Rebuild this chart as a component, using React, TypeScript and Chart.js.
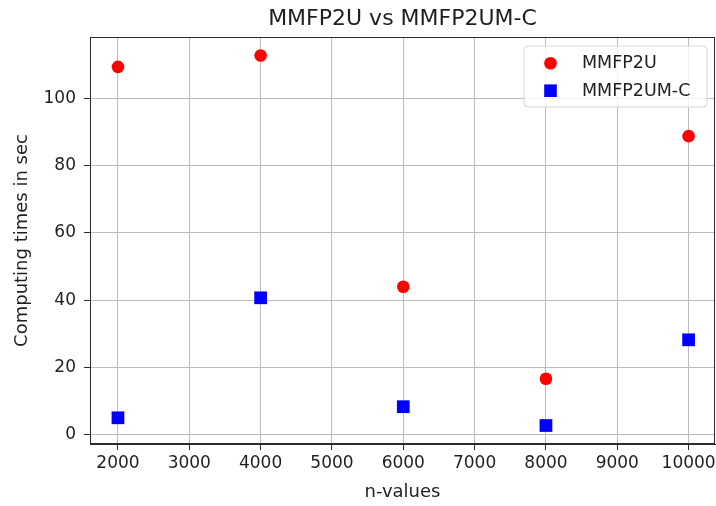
import React, { useEffect, useRef } from 'react';
import { Chart, registerables } from 'chart.js';

Chart.register(...registerables);

const nValues = [2000, 4000, 6000, 8000, 10000];
const mmfp2uTimes = [109.4, 112.8, 44.0, 16.6, 88.8];
const mmfp2umcTimes = [5.0, 40.7, 8.3, 2.7, 28.2];
const seriesLabels = ['MMFP2U', 'MMFP2UM-C'];
const xTicks = [2000, 3000, 4000, 5000, 6000, 7000, 8000, 9000, 10000];
const yTicks = [0, 20, 40, 60, 80, 100];

const FONT = 'DejaVu Sans';
const TEXT = '#1f1f1f';

const framePlugin = {
  id: 'frame',
  afterDatasetsDraw(chart: any) {
    const { ctx, chartArea } = chart;
    ctx.save();
    ctx.strokeStyle = '#2b2b2b';
    ctx.lineWidth = 1;
    const l = Math.round(chartArea.left) + 0.5;
    const t = Math.round(chartArea.top) + 0.5;
    const r = Math.round(chartArea.right) - 0.5;
    const b = Math.round(chartArea.bottom) - 0.5;
    ctx.strokeRect(l, t, r - l, b - t);
    ctx.restore();
  },
};

const legendPlugin = {
  id: 'boxLegend',
  afterDraw(chart: any) {
    const { ctx, chartArea } = chart;
    const w = 183;
    const h = 61;
    const x = chartArea.right - 8 - w;
    const y = chartArea.top + 9;
    const rad = 4;
    ctx.save();
    ctx.beginPath();
    ctx.moveTo(x + rad, y);
    ctx.lineTo(x + w - rad, y);
    ctx.arcTo(x + w, y, x + w, y + rad, rad);
    ctx.lineTo(x + w, y + h - rad);
    ctx.arcTo(x + w, y + h, x + w - rad, y + h, rad);
    ctx.lineTo(x + rad, y + h);
    ctx.arcTo(x, y + h, x, y + h - rad, rad);
    ctx.lineTo(x, y + rad);
    ctx.arcTo(x, y, x + rad, y, rad);
    ctx.closePath();
    ctx.fillStyle = 'rgba(255,255,255,0.8)';
    ctx.fill();
    ctx.strokeStyle = '#d6d6d6';
    ctx.lineWidth = 1;
    ctx.stroke();
    chart.data.datasets.forEach((ds: any, i: number) => {
      const my = y + 17.3 + i * 27.4;
      const mx = x + 26.5;
      ctx.fillStyle = ds.backgroundColor;
      if (ds.pointStyle === 'rect') {
        ctx.fillRect(mx - 6.3, my - 6.3, 12.6, 12.6);
      } else {
        ctx.beginPath();
        ctx.arc(mx, my, 6.3, 0, Math.PI * 2);
        ctx.fill();
      }
      ctx.fillStyle = TEXT;
      ctx.font = `17.5px "${FONT}"`;
      ctx.textBaseline = 'middle';
      ctx.textAlign = 'left';
      ctx.fillText(ds.label, x + 58, my + 0.5);
    });
    ctx.restore();
  },
};

export default function App() {
  const ref = useRef<HTMLCanvasElement | null>(null);

  useEffect(() => {
    if (!ref.current) return;
    const chart = new Chart(ref.current, {
      type: 'scatter',
      data: {
        datasets: [
          {
            label: seriesLabels[0],
            data: nValues.map((n, i) => ({ x: n, y: mmfp2uTimes[i] })),
            backgroundColor: '#ff0000',
            borderColor: '#ff0000',
            borderWidth: 0,
            pointStyle: 'circle',
            pointRadius: 6.3,
            pointHoverRadius: 6.3,
          },
          {
            label: seriesLabels[1],
            data: nValues.map((n, i) => ({ x: n, y: mmfp2umcTimes[i] })),
            backgroundColor: '#0000ff',
            borderColor: '#0000ff',
            borderWidth: 0,
            pointStyle: 'rect',
            pointRadius: 9,
            pointHoverRadius: 9,
          },
        ],
      },
      options: {
        animation: false,
        responsive: false,
        maintainAspectRatio: false,
        events: [],
        layout: { autoPadding: false, padding: { top: 0, right: 1, bottom: 0, left: 0 } },
        plugins: {
          legend: { display: false },
          tooltip: { enabled: false },
          title: {
            display: true,
            text: 'MMFP2U vs MMFP2UM-C',
            fullSize: false,
            color: TEXT,
            font: { family: FONT, size: 22, weight: 'normal' },
            padding: { top: 6.3, bottom: 4.3 },
          },
        },
        scales: {
          x: {
            type: 'linear',
            min: 1608,
            max: 10370,
            afterBuildTicks: (s: any) => {
              s.ticks = xTicks.map((v) => ({ value: v }));
            },
            afterFit: (s: any) => {
              s.height = 62;
              s.paddingLeft = 0;
              s.paddingRight = 0;
            },
            ticks: {
              color: TEXT,
              font: { family: FONT, size: 17 },
              padding: 3,
              maxRotation: 0,
              autoSkip: false,
              callback: (v: any) => String(v),
            },
            grid: { color: '#bcbcbc', lineWidth: 1, tickColor: '#2b2b2b', tickLength: 6 },
            border: { color: '#2b2b2b', width: 1 },
            title: {
              display: true,
              text: 'n-values',
              color: TEXT,
              font: { family: FONT, size: 18 },
              padding: { top: 0, bottom: 3 },
            },
          },
          y: {
            type: 'linear',
            min: -2.8,
            max: 118.3,
            afterBuildTicks: (s: any) => {
              s.ticks = yTicks.map((v) => ({ value: v }));
            },
            afterFit: (s: any) => {
              s.width = 90;
              s.paddingTop = 0;
              s.paddingBottom = 0;
            },
            ticks: {
              color: TEXT,
              font: { family: FONT, size: 17 },
              padding: 8,
              autoSkip: false,
              callback: (v: any) => String(v),
            },
            grid: { color: '#bcbcbc', lineWidth: 1, tickColor: '#2b2b2b', tickLength: 6 },
            border: { color: '#2b2b2b', width: 1 },
            title: {
              display: true,
              text: 'Computing times in sec',
              color: TEXT,
              font: { family: FONT, size: 18 },
              padding: { top: 11.7, bottom: 0 },
            },
          },
        },
      },
      plugins: [framePlugin, legendPlugin],
    } as any);
    return () => chart.destroy();
  }, []);

  return (
    <div style={{ position: 'fixed', left: 0, top: 0, width: 716, height: 506, background: '#fff' }}>
      <canvas ref={ref} width={716} height={506} style={{ width: 716, height: 506, display: 'block' }} />
    </div>
  );
}
